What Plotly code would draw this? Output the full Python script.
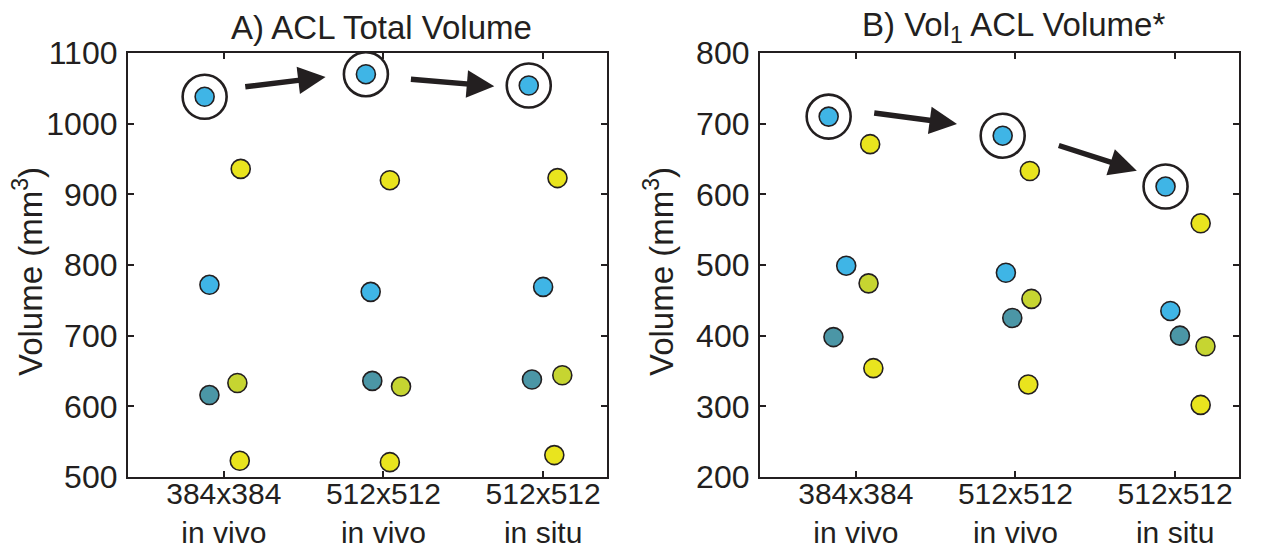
import plotly.graph_objects as go

# ---------------- data ----------------
cat_pos = [1, 2, 3]
cat_labels = ["384x384<br>in vivo", "512x512<br>in vivo", "512x512<br>in situ"]

# Panel A: ACL total volume (mm^3)
a_blue_top_x = [0.88, 1.89, 2.91]
a_blue_top_y = [1038, 1070, 1054]
a_yellow_hi_x = [1.106, 2.04, 3.09]
a_yellow_hi_y = [936, 920, 923]
a_blue_mid_x = [0.91, 1.92, 3.0]
a_blue_mid_y = [772, 762, 769]
a_teal_x = [0.91, 1.93, 2.93]
a_teal_y = [616, 636, 638]
a_ygreen_x = [1.085, 2.11, 3.12]
a_ygreen_y = [633, 628, 644]
a_yellow_lo_x = [1.10, 2.04, 3.07]
a_yellow_lo_y = [523, 521, 531]

# Panel B: Vol1 ACL volume (mm^3)
b_blue_top_x = [0.83, 1.92, 2.94]
b_blue_top_y = [710, 683, 611]
b_yellow_hi_x = [1.09, 2.09, 3.16]
b_yellow_hi_y = [671, 633, 559]
b_blue_mid_x = [0.94, 1.94, 2.97]
b_blue_mid_y = [499, 489, 435]
b_ygreen_x = [1.08, 2.10, 3.19]
b_ygreen_y = [474, 452, 385]
b_teal_x = [0.86, 1.98, 3.03]
b_teal_y = [398, 425, 400]
b_yellow_lo_x = [1.11, 2.08, 3.16]
b_yellow_lo_y = [354, 331, 302]

# arrows (tail -> tip), data coordinates
a_arrow_tail_x = [1.125, 2.1625]
a_arrow_tail_y = [1052, 1063]
a_arrow_tip_x = [1.6375, 2.694]
a_arrow_tip_y = [1066, 1053]
b_arrow_tail_x = [1.106, 2.262]
b_arrow_tail_y = [715.5, 669.8]
b_arrow_tip_x = [1.634, 2.76]
b_arrow_tip_y = [699.5, 633.5]

a_yticks = [500, 600, 700, 800, 900, 1000, 1100]
b_yticks = [200, 300, 400, 500, 600, 700, 800]

# ---------------- style ----------------
BLUE = "#3fb5e6"
TEAL = "#4b96a6"
YGREEN = "#c6d531"
YELLOW = "#e9e41e"
INK = "#231f20"
FONT = "Liberation Sans, Arial, Helvetica, sans-serif"
W, H = 1261, 554

fig = go.Figure()


def add_dots(xs, ys, color, xa, ya):
    fig.add_trace(go.Scatter(
        x=xs, y=ys, mode="markers", xaxis=xa, yaxis=ya, showlegend=False,
        marker=dict(size=19, color=color, line=dict(color=INK, width=1.6)),
        hoverinfo="skip"))


def add_rings(xs, ys, xa, ya):
    fig.add_trace(go.Scatter(
        x=xs, y=ys, mode="markers", xaxis=xa, yaxis=ya, showlegend=False,
        marker=dict(size=44, color="rgba(255,255,255,0)",
                    line=dict(color=INK, width=2.6)),
        hoverinfo="skip"))


# Panel A
add_rings(a_blue_top_x, a_blue_top_y, "x", "y")
add_dots(a_blue_top_x, a_blue_top_y, BLUE, "x", "y")
add_dots(a_yellow_hi_x, a_yellow_hi_y, YELLOW, "x", "y")
add_dots(a_blue_mid_x, a_blue_mid_y, BLUE, "x", "y")
add_dots(a_teal_x, a_teal_y, TEAL, "x", "y")
add_dots(a_ygreen_x, a_ygreen_y, YGREEN, "x", "y")
add_dots(a_yellow_lo_x, a_yellow_lo_y, YELLOW, "x", "y")

# Panel B
add_rings(b_blue_top_x, b_blue_top_y, "x2", "y2")
add_dots(b_blue_top_x, b_blue_top_y, BLUE, "x2", "y2")
add_dots(b_yellow_hi_x, b_yellow_hi_y, YELLOW, "x2", "y2")
add_dots(b_blue_mid_x, b_blue_mid_y, BLUE, "x2", "y2")
add_dots(b_ygreen_x, b_ygreen_y, YGREEN, "x2", "y2")
add_dots(b_teal_x, b_teal_y, TEAL, "x2", "y2")
add_dots(b_yellow_lo_x, b_yellow_lo_y, YELLOW, "x2", "y2")

annotations = []
for tx, ty, hx, hy in zip(a_arrow_tail_x, a_arrow_tail_y, a_arrow_tip_x, a_arrow_tip_y):
    annotations.append(dict(x=hx, y=hy, ax=tx, ay=ty, xref="x", yref="y",
                            axref="x", ayref="y", text="", showarrow=True,
                            arrowhead=2, arrowwidth=5.5, arrowsize=1.0,
                            arrowcolor=INK, standoff=0))
for tx, ty, hx, hy in zip(b_arrow_tail_x, b_arrow_tail_y, b_arrow_tip_x, b_arrow_tip_y):
    annotations.append(dict(x=hx, y=hy, ax=tx, ay=ty, xref="x2", yref="y2",
                            axref="x2", ayref="y2", text="", showarrow=True,
                            arrowhead=2, arrowwidth=5.5, arrowsize=1.0,
                            arrowcolor=INK, standoff=0))

# titles
annotations.append(dict(text="A) ACL Total Volume", x=381 / W, y=1 - 27 / H,
                        xref="paper", yref="paper", showarrow=False,
                        xanchor="center", yanchor="middle",
                        font=dict(family=FONT, size=33, color=INK)))
annotations.append(dict(text="B) Vol<sub>1</sub> ACL Volume*", x=1013 / W, y=1 - 27 / H,
                        xref="paper", yref="paper", showarrow=False,
                        xanchor="center", yanchor="middle",
                        font=dict(family=FONT, size=33, color=INK)))
# y-axis titles
for xp in (28, 659):
    annotations.append(dict(text="Volume (mm<sup>3</sup>)", x=xp / W, y=1 - 272 / H,
                            xref="paper", yref="paper", showarrow=False,
                            textangle=-90, xanchor="center", yanchor="middle",
                            font=dict(family=FONT, size=33, color=INK)))

axis_common = dict(showline=True, linewidth=2.2, linecolor=INK, mirror="ticks",
                   ticks="inside", ticklen=6, tickwidth=1.8, tickcolor=INK,
                   showgrid=False, zeroline=False, automargin=False)
yfont = dict(family=FONT, size=32, color=INK)
xfont = dict(family=FONT, size=30, color=INK)

fig.update_layout(
    template="none",
    width=W, height=H,
    margin=dict(l=0, r=0, t=0, b=0, pad=0),
    paper_bgcolor="white", plot_bgcolor="white",
    showlegend=False,
    annotations=annotations,
    xaxis=dict(domain=[128 / W, 607 / W], range=[0.4, 3.4], tickvals=cat_pos,
               ticktext=cat_labels, anchor="y", tickfont=xfont,
               ticklabelstandoff=-11, **axis_common),
    yaxis=dict(domain=[1 - 477 / H, 1 - 53 / H], range=[500, 1100], tickvals=a_yticks,
               anchor="x", ticklabelstandoff=2, tickfont=yfont, **axis_common),
    xaxis2=dict(domain=[760 / W, 1239 / W], range=[0.4, 3.4], tickvals=cat_pos,
                ticktext=cat_labels, anchor="y2", tickfont=xfont,
                ticklabelstandoff=-11, **axis_common),
    yaxis2=dict(domain=[1 - 477 / H, 1 - 53 / H], range=[200, 800], tickvals=b_yticks,
                anchor="x2", ticklabelstandoff=2, tickfont=yfont, **axis_common),
)

fig.write_html(
    "out.html",
    config={"displayModeBar": False},
    post_script="document.body.style.margin='0';document.body.style.overflow='hidden';",
)
